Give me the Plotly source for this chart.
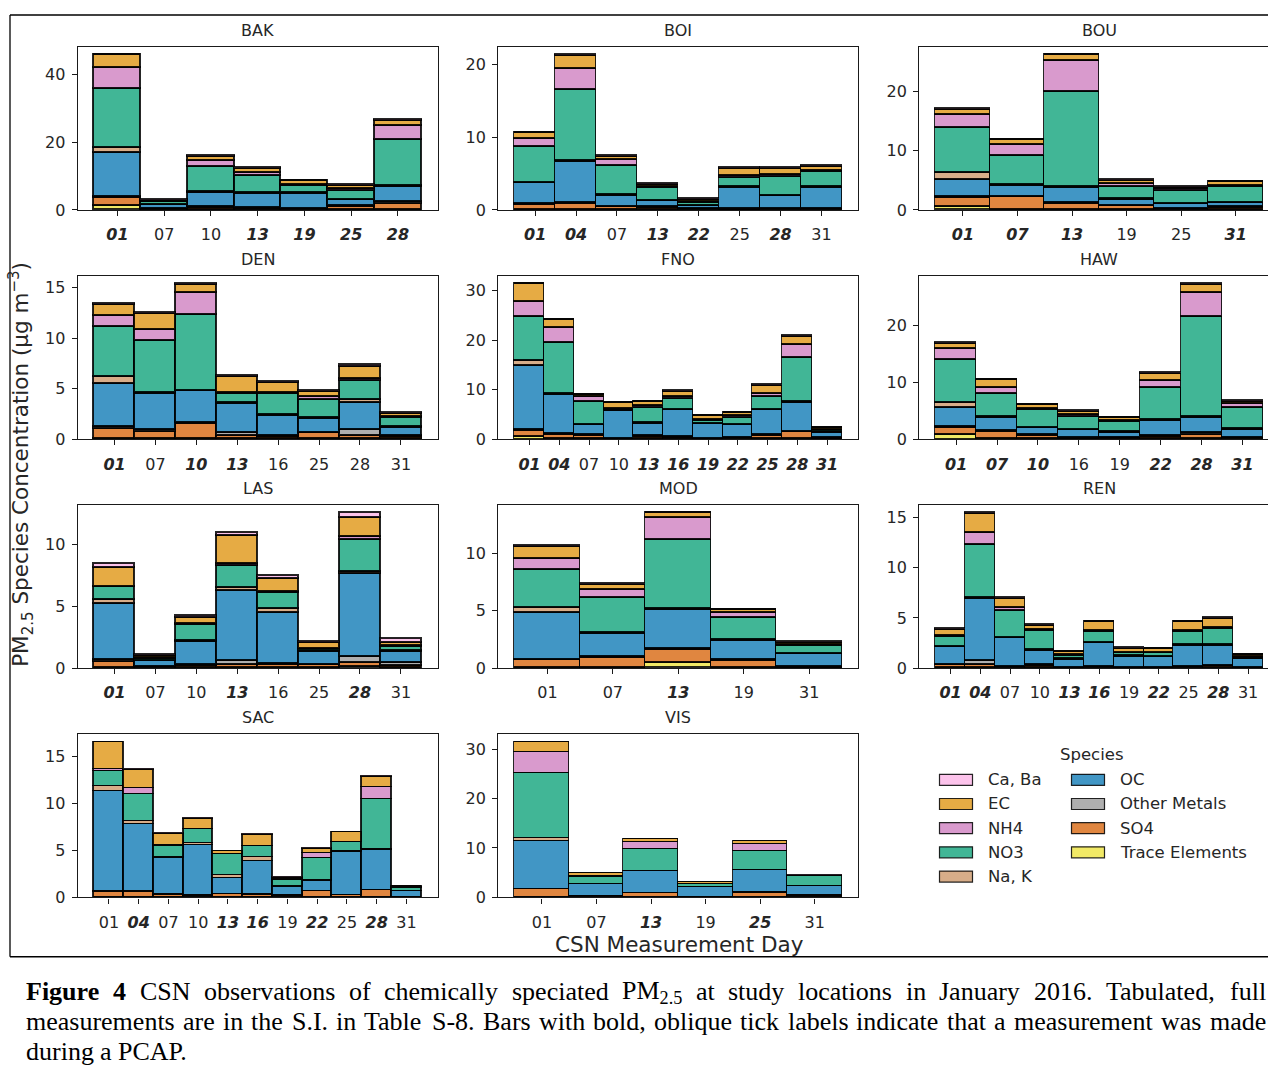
import re
import plotly.graph_objects as go

W, H = 1268, 1079
Y_FIT = 1 / 0.991  # small vertical stretch so the page fills the frame

# Species in legend order; bars are stacked in the reverse order (last entry at the bottom)
SPECIES = ["Ca, Ba", "EC", "NH4", "NO3", "Na, K", "OC", "Other Metals", "SO4", "Trace Elements"]
SPECIES_COLORS = ["#fbafe4", "#de8f05", "#cc78bc", "#029e73", "#ca9161",
                  "#0173b2", "#949494", "#d55e00", "#ece133"]

# ---- measurements (ug m-3) per site; *_PCAP marks days sampled during a PCAP ----
BAK_DAYS = ["01", "07", "10", "13", "19", "25", "28"]
BAK_PCAP = ["01", "13", "19", "25", "28"]
BAK = {
    "Trace Elements": [1.3, 0.05, 0.05, 0.05, 0.05, 0.05, 0.1],
    "SO4":            [2.4, 0.2, 0.5, 0.4, 0.3, 0.8, 1.8],
    "Other Metals":   [0.1, 0.05, 0.3, 0.2, 0.1, 0.4, 0.4],
    "OC":             [13.1, 1.2, 4.35, 4.25, 4.45, 1.7, 4.6],
    "Na, K":          [1.3, 0.05, 0.1, 0.1, 0.05, 0.1, 0.3],
    "NO3":            [17.6, 0.9, 7.3, 5.1, 2.25, 2.55, 13.4],
    "NH4":            [6.1, 0.1, 1.9, 0.8, 0.3, 0.6, 4.2],
    "EC":             [3.8, 0.3, 1.2, 1.3, 1.0, 1.0, 1.6],
    "Ca, Ba":         [0.1, 0.05, 0.2, 0.2, 0.1, 0.2, 0.1],
}

BOI_DAYS = ["01", "04", "07", "13", "22", "25", "28", "31"]
BOI_PCAP = ["01", "04", "13", "22", "28"]
BOI = {
    "Trace Elements": [0.05, 0.05, 0.05, 0.02, 0.02, 0.02, 0.02, 0.02],
    "SO4":            [0.65, 0.75, 0.35, 0.3, 0.1, 0.08, 0.15, 0.15],
    "Other Metals":   [0.1, 0.2, 0.1, 0.1, 0.05, 0.05, 0.05, 0.05],
    "OC":             [2.9, 5.7, 1.5, 0.8, 0.43, 2.95, 1.7, 2.9],
    "Na, K":          [0.05, 0.1, 0.05, 0.05, 0.02, 0.05, 0.05, 0.05],
    "NO3":            [5.0, 9.8, 4.05, 1.85, 0.38, 1.35, 2.55, 2.15],
    "NH4":            [1.1, 2.8, 0.85, 0.1, 0.1, 0.2, 0.4, 0.1],
    "EC":             [0.75, 1.9, 0.4, 0.3, 0.3, 1.0, 0.75, 0.6],
    "Ca, Ba":         [0.1, 0.1, 0.1, 0.08, 0.1, 0.05, 0.1, 0.08],
}

BOU_DAYS = ["01", "07", "13", "19", "25", "31"]
BOU_PCAP = ["01", "07", "13", "31"]
BOU = {
    "Trace Elements": [0.5, 0.1, 0.1, 0.05, 0.02, 0.05],
    "SO4":            [1.6, 2.1, 1.0, 0.6, 0.2, 0.35],
    "Other Metals":   [0.1, 0.05, 0.1, 0.1, 0.05, 0.1],
    "OC":             [2.9, 1.85, 2.6, 1.05, 0.75, 0.75],
    "Na, K":          [1.1, 0.1, 0.2, 0.1, 0.05, 0.05],
    "NO3":            [7.6, 5.0, 16.0, 2.1, 2.25, 2.65],
    "NH4":            [2.3, 1.8, 5.2, 0.4, 0.2, 0.2],
    "EC":             [0.8, 0.8, 0.9, 0.6, 0.3, 0.55],
    "Ca, Ba":         [0.1, 0.1, 0.1, 0.1, 0.08, 0.1],
}

DEN_DAYS = ["01", "07", "10", "13", "16", "25", "28", "31"]
DEN_PCAP = ["01", "10", "13"]
DEN = {
    "Trace Elements": [0.05, 0.05, 0.02, 0.02, 0.02, 0.02, 0.05, 0.02],
    "SO4":            [1.0, 0.65, 1.55, 0.33, 0.28, 0.6, 0.3, 0.23],
    "Other Metals":   [0.2, 0.2, 0.05, 0.3, 0.1, 0.05, 0.55, 0.1],
    "OC":             [4.2, 3.6, 3.15, 2.9, 1.9, 1.4, 2.7, 0.8],
    "Na, K":          [0.7, 0.1, 0.05, 0.1, 0.1, 0.05, 0.3, 0.05],
    "NO3":            [4.95, 5.15, 7.45, 0.9, 2.1, 1.8, 1.9, 0.95],
    "NH4":            [1.1, 1.1, 2.2, 0.1, 0.15, 0.25, 0.15, 0.1],
    "EC":             [1.15, 1.55, 0.85, 1.55, 0.9, 0.55, 1.2, 0.3],
    "Ca, Ba":         [0.05, 0.1, 0.08, 0.1, 0.1, 0.05, 0.25, 0.05],
}

FNO_DAYS = ["01", "04", "07", "10", "13", "16", "19", "22", "25", "28", "31"]
FNO_PCAP = ["01", "04", "13", "16", "19", "22", "25", "28", "31"]
FNO = {
    "Trace Elements": [0.5, 0.05, 0.05, 0.02, 0.03, 0.02, 0.02, 0.02, 0.05, 0.05, 0.02],
    "SO4":            [1.3, 0.9, 0.75, 0.1, 0.4, 0.3, 0.08, 0.25, 0.75, 1.45, 0.15],
    "Other Metals":   [0.1, 0.25, 0.1, 0.05, 0.2, 0.1, 0.05, 0.1, 0.1, 0.1, 0.05],
    "OC":             [12.9, 7.8, 1.95, 5.6, 2.6, 5.5, 2.9, 2.5, 5.1, 5.8, 1.2],
    "Na, K":          [1.0, 0.2, 0.1, 0.05, 0.05, 0.05, 0.05, 0.05, 0.05, 0.1, 0.03],
    "NO3":            [8.9, 10.3, 4.55, 0.2, 3.05, 2.2, 0.65, 1.45, 2.65, 8.9, 0.45],
    "NH4":            [3.1, 3.0, 1.1, 0.1, 0.5, 0.5, 0.3, 0.4, 0.6, 2.8, 0.1],
    "EC":             [3.6, 1.6, 0.45, 1.2, 0.7, 1.0, 0.65, 0.6, 1.6, 1.6, 0.3],
    "Ca, Ba":         [0.1, 0.1, 0.05, 0.05, 0.07, 0.1, 0.1, 0.1, 0.1, 0.1, 0.1],
}

HAW_DAYS = ["01", "07", "10", "16", "19", "22", "28", "31"]
HAW_PCAP = ["01", "07", "10", "22", "28", "31"]
HAW = {
    "Trace Elements": [0.75, 0.05, 0.05, 0.02, 0.02, 0.02, 0.05, 0.02],
    "SO4":            [1.3, 1.3, 0.5, 0.13, 0.18, 0.38, 0.75, 0.23],
    "Other Metals":   [0.15, 0.1, 0.2, 0.05, 0.1, 0.2, 0.3, 0.1],
    "OC":             [3.4, 2.35, 1.3, 1.4, 0.9, 2.7, 2.65, 1.4],
    "Na, K":          [0.75, 0.1, 0.05, 0.05, 0.05, 0.05, 0.2, 0.05],
    "NO3":            [7.65, 4.05, 3.1, 2.25, 1.75, 5.65, 17.5, 3.8],
    "NH4":            [1.95, 1.05, 0.2, 0.4, 0.2, 1.2, 4.3, 0.6],
    "EC":             [0.9, 1.4, 0.6, 0.6, 0.5, 1.35, 1.4, 0.4],
    "Ca, Ba":         [0.1, 0.1, 0.1, 0.15, 0.1, 0.1, 0.2, 0.15],
}

LAS_DAYS = ["01", "07", "10", "13", "16", "25", "28", "31"]
LAS_PCAP = ["01", "13", "28"]
LAS = {
    "Trace Elements": [0.05, 0.02, 0.02, 0.05, 0.02, 0.02, 0.1, 0.02],
    "SO4":            [0.45, 0.05, 0.18, 0.25, 0.23, 0.23, 0.3, 0.18],
    "Other Metals":   [0.2, 0.05, 0.1, 0.25, 0.1, 0.05, 0.5, 0.25],
    "OC":             [4.5, 0.45, 1.8, 5.7, 4.15, 1.0, 6.7, 0.9],
    "Na, K":          [0.35, 0.02, 0.1, 0.25, 0.3, 0.1, 0.2, 0.05],
    "NO3":            [1.0, 0.16, 1.3, 1.75, 1.3, 0.15, 2.6, 0.35],
    "NH4":            [0.05, 0.05, 0.05, 0.2, 0.1, 0.05, 0.2, 0.05],
    "EC":             [1.5, 0.2, 0.55, 2.25, 1.05, 0.45, 1.6, 0.25],
    "Ca, Ba":         [0.35, 0.05, 0.15, 0.3, 0.25, 0.1, 0.4, 0.3],
}

MOD_DAYS = ["01", "07", "13", "19", "31"]
MOD_PCAP = ["13"]
MOD = {
    "Trace Elements": [0.02, 0.02, 0.5, 0.02, 0.02],
    "SO4":            [0.68, 0.88, 1.05, 0.63, 0.03],
    "Other Metals":   [0.05, 0.05, 0.1, 0.05, 0.05],
    "OC":             [4.05, 2.05, 3.45, 1.7, 1.1],
    "Na, K":          [0.45, 0.05, 0.1, 0.05, 0.05],
    "NO3":            [3.35, 3.05, 5.95, 1.9, 0.65],
    "NH4":            [0.9, 0.75, 1.95, 0.45, 0.1],
    "EC":             [1.1, 0.4, 0.4, 0.25, 0.2],
    "Ca, Ba":         [0.05, 0.05, 0.05, 0.05, 0.05],
}

REN_DAYS = ["01", "04", "07", "10", "13", "16", "19", "22", "25", "28", "31"]
REN_PCAP = ["01", "04", "13", "16", "22", "28"]
REN = {
    "Trace Elements": [0.02, 0.05, 0.02, 0.02, 0.01, 0.01, 0.01, 0.01, 0.01, 0.02, 0.01],
    "SO4":            [0.28, 0.3, 0.08, 0.23, 0.04, 0.07, 0.04, 0.04, 0.07, 0.18, 0.02],
    "Other Metals":   [0.05, 0.4, 0.05, 0.05, 0.02, 0.02, 0.02, 0.02, 0.02, 0.05, 0.02],
    "OC":             [1.75, 6.2, 2.85, 1.45, 0.78, 2.4, 1.1, 1.05, 2.15, 2.0, 0.85],
    "Na, K":          [0.05, 0.1, 0.05, 0.05, 0.03, 0.05, 0.03, 0.03, 0.05, 0.05, 0.02],
    "NO3":            [0.95, 5.25, 2.7, 1.95, 0.35, 1.1, 0.3, 0.35, 1.3, 1.6, 0.1],
    "NH4":            [0.1, 1.2, 0.3, 0.1, 0.05, 0.1, 0.05, 0.05, 0.15, 0.1, 0.1],
    "EC":             [0.65, 1.9, 0.9, 0.35, 0.3, 0.85, 0.4, 0.35, 0.85, 0.95, 0.2],
    "Ca, Ba":         [0.1, 0.1, 0.1, 0.1, 0.07, 0.05, 0.05, 0.05, 0.05, 0.1, 0.03],
}

SAC_DAYS = ["01", "04", "07", "10", "13", "16", "19", "22", "25", "28", "31"]
SAC_PCAP = ["04", "13", "16", "22", "28"]
SAC = {
    "Trace Elements": [0.05, 0.02, 0.02, 0.02, 0.02, 0.02, 0.02, 0.02, 0.02, 0.02, 0.01],
    "SO4":            [0.55, 0.58, 0.23, 0.13, 0.33, 0.28, 0.13, 0.63, 0.23, 0.73, 0.04],
    "Other Metals":   [0.1, 0.05, 0.1, 0.05, 0.05, 0.05, 0.05, 0.05, 0.05, 0.05, 0.02],
    "OC":             [10.55, 7.15, 3.85, 5.4, 1.65, 3.55, 0.95, 1.05, 4.5, 4.2, 0.6],
    "Na, K":          [0.55, 0.3, 0.1, 0.15, 0.3, 0.35, 0.05, 0.1, 0.1, 0.1, 0.02],
    "NO3":            [1.6, 2.9, 1.2, 1.45, 2.2, 1.15, 0.6, 2.3, 0.95, 5.35, 0.33],
    "NH4":            [0.25, 0.6, 0.1, 0.05, 0.1, 0.1, 0.1, 0.55, 0.05, 1.25, 0.05],
    "EC":             [2.8, 1.95, 1.15, 1.1, 0.25, 1.15, 0.2, 0.45, 1.0, 1.1, 0.15],
    "Ca, Ba":         [0.05, 0.05, 0.05, 0.05, 0.05, 0.05, 0.05, 0.1, 0.05, 0.05, 0.03],
}

VIS_DAYS = ["01", "07", "13", "19", "25", "31"]
VIS_PCAP = ["13", "25"]
VIS = {
    "Trace Elements": [0.1, 0.02, 0.02, 0.02, 0.02, 0.02],
    "SO4":            [1.5, 0.23, 0.83, 0.08, 0.93, 0.33],
    "Other Metals":   [0.15, 0.05, 0.05, 0.05, 0.05, 0.05],
    "OC":             [9.55, 2.4, 4.35, 1.85, 4.5, 1.8],
    "Na, K":          [0.6, 0.05, 0.1, 0.05, 0.1, 0.05],
    "NO3":            [13.25, 1.35, 4.5, 0.65, 3.8, 2.0],
    "NH4":            [4.25, 0.2, 1.35, 0.1, 1.3, 0.05],
    "EC":             [1.95, 0.55, 0.6, 0.35, 0.6, 0.1],
    "Ca, Ba":         [0.1, 0.05, 0.05, 0.05, 0.15, 0.05],
}

# y tick spacing per site
Y_DTICK = {"BAK": 20, "BOI": 10, "BOU": 10, "DEN": 5, "FNO": 10, "HAW": 10,
           "LAS": 5, "MOD": 5, "REN": 5, "SAC": 5, "VIS": 10}

SITES = [
    ("BAK", BAK_DAYS, BAK_PCAP, BAK), ("BOI", BOI_DAYS, BOI_PCAP, BOI),
    ("BOU", BOU_DAYS, BOU_PCAP, BOU), ("DEN", DEN_DAYS, DEN_PCAP, DEN),
    ("FNO", FNO_DAYS, FNO_PCAP, FNO), ("HAW", HAW_DAYS, HAW_PCAP, HAW),
    ("LAS", LAS_DAYS, LAS_PCAP, LAS), ("MOD", MOD_DAYS, MOD_PCAP, MOD),
    ("REN", REN_DAYS, REN_PCAP, REN), ("SAC", SAC_DAYS, SAC_PCAP, SAC),
    ("VIS", VIS_DAYS, VIS_PCAP, VIS),
]

CAPTION_LINES = [
    ["<b>Figure</b>", "<b>4</b>", "CSN", "observations", "of", "chemically", "speciated",
     "PM<sub>2.5</sub>", "at", "study", "locations", "in", "January", "2016.", "Tabulated,", "full"],
    ["measurements", "are", "in", "the", "S.I.", "in", "Table", "S-8.", "Bars", "with", "bold,",
     "oblique", "tick", "labels", "indicate", "that", "a", "measurement", "was", "made"],
    ["during", "a", "PCAP."],
]

# ---------------------------------------------------------------- layout helpers
def px(x):
    return x / W


def py(y):
    return 1 - y * Y_FIT / H


def rgba(hex_color, a):
    h = hex_color.lstrip("#")
    r, g, b = int(h[0:2], 16), int(h[2:4], 16), int(h[4:6], 16)
    return f"rgba({r},{g},{b},{a})"


COL_LEFT = [77.7, 498.3, 919.3]
AX_W = 360.0
ROWS = [(46.7, 210.0), (275.7, 439.3), (505.0, 668.3), (734.3, 897.7)]
INK = "#1a1a1a"
TXT = "#262626"
FONT = "DejaVu Sans"

fig = go.Figure()
annotations = []
shapes = []
layout_axes = {}

stack_order = list(reversed(SPECIES))
color_of = dict(zip(SPECIES, SPECIES_COLORS))

for i, (name, days, pcap, vals) in enumerate(SITES):
    k = i + 1
    row, col = divmod(i, 3)
    n = len(days)
    xs = list(range(n))
    xa = "x" if k == 1 else f"x{k}"
    ya = "y" if k == 1 else f"y{k}"
    for sp in stack_order:
        fig.add_trace(go.Bar(
            x=xs, y=vals[sp], width=1.0, name=sp, showlegend=False,
            marker=dict(color=rgba(color_of[sp], 0.75),
                        line=dict(color="rgba(0,0,0,0.85)", width=1.4)),
            xaxis=xa, yaxis=ya, hoverinfo="name+y",
        ))
    totals = [sum(vals[sp][j] for sp in SPECIES) for j in range(n)]
    ytop = max(totals) * 1.05

    left = COL_LEFT[col]
    right = left + AX_W
    top, bottom = ROWS[row]
    x0 = -0.5 - 0.05 * n
    x1 = n - 0.5 + 0.05 * n
    if right > W:
        # right-hand column runs past the page edge
        x1 = x0 + (x1 - x0) * (W - left) / AX_W
        right_dom = 1.0
    else:
        right_dom = px(right)

    ticktext = [f"<b><i>{d}</i></b>" if d in pcap else d for d in days]
    common = dict(showline=True, linecolor=INK, linewidth=1.25, ticks="outside",
                  ticklen=5, tickwidth=1.2, tickcolor=INK, showgrid=False,
                  zeroline=False, tickfont=dict(family=FONT, size=16, color=TXT))
    layout_axes[f"xaxis{'' if k == 1 else k}"] = dict(
        domain=[px(left), right_dom], anchor=ya, range=[x0, x1],
        tickmode="array", tickvals=xs, ticktext=ticktext, mirror=True,
        ticklabelstandoff=5, **common)
    layout_axes[f"yaxis{'' if k == 1 else k}"] = dict(
        domain=[py(bottom), py(top)], anchor=xa, range=[0, ytop],
        tick0=0, dtick=Y_DTICK[name], mirror=(right <= W),
        ticklabelstandoff=3, **common)

    annotations.append(dict(
        x=px((left + right) / 2), y=py(top - 16.5), xref="paper", yref="paper",
        text=name, showarrow=False, xanchor="center", yanchor="middle",
        font=dict(family=FONT, size=16, color=TXT)))

# shared axis titles
annotations.append(dict(
    x=px(21), y=py(465), xref="paper", yref="paper", textangle=-90,
    text="PM<sub>2.5</sub> Species Concentration (μg m<sup>−3</sup>)",
    showarrow=False, xanchor="center", yanchor="middle",
    font=dict(family=FONT, size=21.5, color=TXT)))
annotations.append(dict(
    x=px(679), y=py(945), xref="paper", yref="paper", text="CSN Measurement Day",
    showarrow=False, xanchor="center", yanchor="middle",
    font=dict(family=FONT, size=21.5, color=TXT)))

# legend drawn by hand: two columns of swatches
annotations.append(dict(
    x=px(1092), y=py(755), xref="paper", yref="paper", text="Species",
    showarrow=False, xanchor="center", yanchor="middle",
    font=dict(family=FONT, size=16.5, color=TXT)))
leg_cols = [(939.5, 986.0), (1071.5, 1118.0)]
for j, sp in enumerate(SPECIES):
    c, r = divmod(j, 5)
    sx, tx = leg_cols[c]
    cy = 780 + 24.2 * r
    shapes.append(dict(type="rect", xref="paper", yref="paper",
                       x0=px(sx), x1=px(sx + 33), y0=py(cy + 5.5), y1=py(cy - 5.5),
                       fillcolor=rgba(color_of[sp], 0.75),
                       line=dict(color="rgba(0,0,0,0.85)", width=1.2)))
    annotations.append(dict(
        x=px(tx), y=py(cy), xref="paper", yref="paper", text=sp, showarrow=False,
        xanchor="left", yanchor="middle", font=dict(family=FONT, size=16.5, color=TXT)))

# page frame around the figure block
frame = dict(color="black", width=1.3)
shapes.append(dict(type="line", xref="paper", yref="paper",
                   x0=px(10), x1=1.0, y0=py(15), y1=py(15), line=frame))
shapes.append(dict(type="line", xref="paper", yref="paper",
                   x0=px(10), x1=px(10), y0=py(15), y1=py(957), line=frame))
shapes.append(dict(type="line", xref="paper", yref="paper",
                   x0=px(10), x1=1.0, y0=py(957), y1=py(957), line=frame))

# caption, fully justified (Times metrics; Liberation Serif shares them)
TIMES = {" ": 250, ",": 250, "-": 333, ".": 250, "0": 500, "1": 500, "2": 500, "3": 500,
         "4": 500, "5": 500, "6": 500, "7": 500, "8": 500, "9": 500,
         "A": 722, "B": 667, "C": 667, "D": 722, "E": 611, "F": 556, "I": 333, "J": 389,
         "M": 889, "N": 722, "P": 556, "S": 556, "T": 611,
         "a": 444, "b": 500, "c": 444, "d": 500, "e": 444, "f": 333, "g": 500, "h": 500,
         "i": 278, "k": 500, "l": 278, "m": 778, "n": 500, "o": 500, "p": 500, "q": 500,
         "r": 333, "s": 389, "t": 278, "u": 500, "v": 500, "w": 722, "y": 500}
TIMES_BOLD = {"F": 611, "i": 278, "g": 500, "u": 556, "r": 444, "e": 444, "4": 500}
CAP_SIZE = 26


def word_width(markup, size):
    bold = "<b>" in markup
    scale = 1.0
    total = 0.0
    for tok in re.split(r"(<[^>]+>)", markup):
        if tok.startswith("<"):
            if tok == "<sub>":
                scale = 0.7
            elif tok == "</sub>":
                scale = 1.0
            continue
        for ch in tok:
            w = TIMES_BOLD.get(ch, TIMES.get(ch, 500)) if bold else TIMES.get(ch, 500)
            total += w * scale
    return total / 1000 * size


CAP_LEFT, CAP_RIGHT = 25.0, 1265.0
CAP_Y = [992, 1022, 1052]
for li, words in enumerate(CAPTION_LINES):
    widths = [word_width(w, CAP_SIZE) for w in words]
    if li < len(CAPTION_LINES) - 1:
        gap = (CAP_RIGHT - CAP_LEFT - sum(widths)) / (len(words) - 1)
    else:
        gap = TIMES[" "] / 1000 * CAP_SIZE
    x = CAP_LEFT
    for w, wd in zip(words, widths):
        annotations.append(dict(
            x=px(x), y=py(CAP_Y[li]), xref="paper", yref="paper", text=w,
            showarrow=False, xanchor="left", yanchor="middle", borderpad=0,
            font=dict(family="Liberation Serif", size=CAP_SIZE, color="black")))
        x += wd + gap

fig.update_layout(
    width=W, height=H, margin=dict(l=0, r=0, t=0, b=0, pad=0),
    paper_bgcolor="white", plot_bgcolor="white", barmode="stack", bargap=0,
    showlegend=False, annotations=annotations, shapes=shapes, **layout_axes)

fig.write_html("out.html")
